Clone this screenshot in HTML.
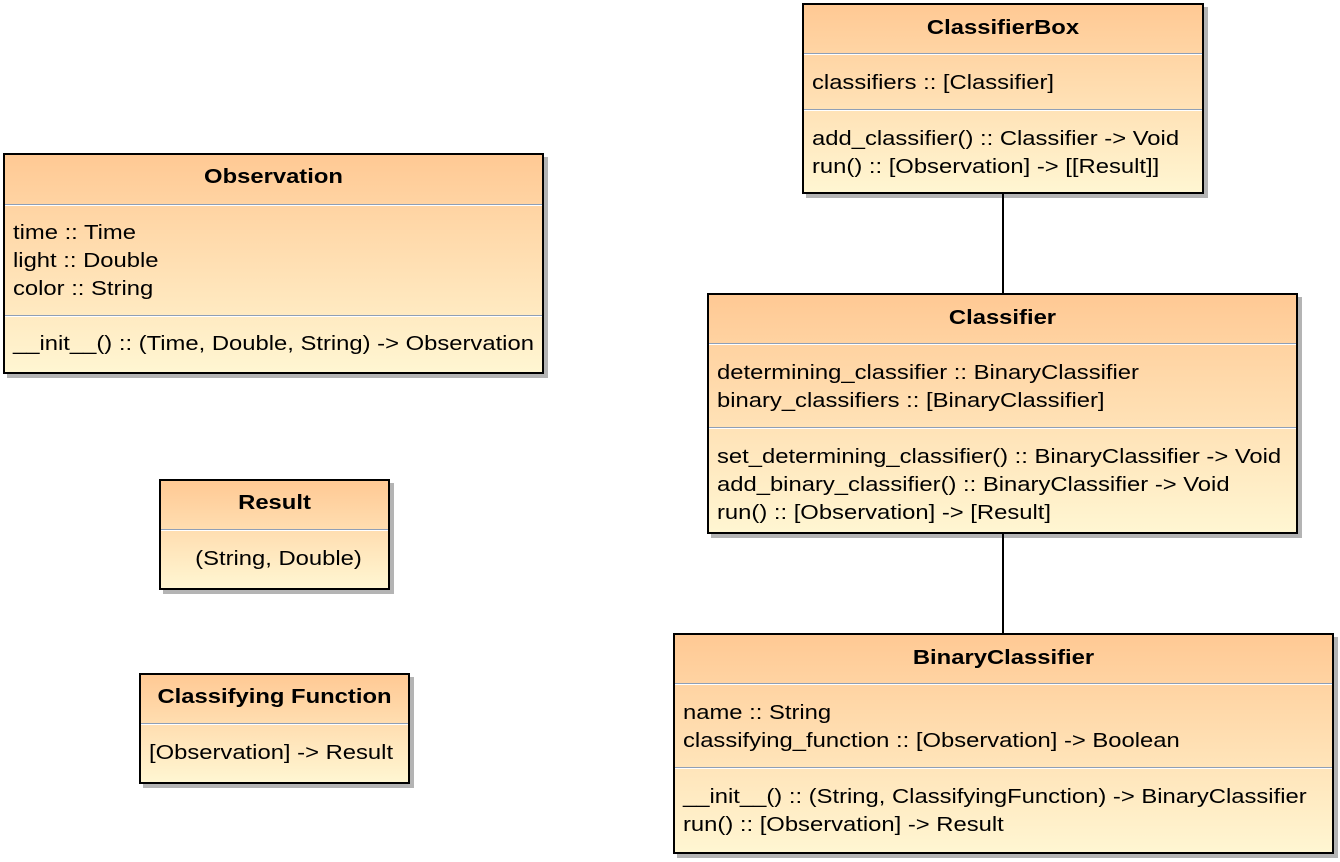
<!DOCTYPE html>
<html><head><meta charset="utf-8"><style>
body{margin:0;width:1340px;height:862px;background:#fff;position:relative;overflow:hidden;font-family:"Liberation Sans",Arial,sans-serif;}
.b{position:absolute;box-sizing:border-box;border:2px solid #000;background:linear-gradient(#ffc994,#fff6d2);box-shadow:4px 4px 0 #b4b4b4;}
.t{position:absolute;left:0;right:0;height:28px;line-height:28px;font-size:20px;white-space:nowrap;color:#000;transform:scaleX(1.19);}
.h{text-align:center;font-weight:bold;transform-origin:center;}
.n{font-weight:normal;}
.l{left:8px;transform-origin:left center;}
.s{position:absolute;left:0;right:0;height:1px;background:#8f9fb6;border-bottom:1px solid #fff;}
.c{position:absolute;width:2px;background:#000;left:1002px;z-index:5;}
</style></head><body>
<div class="c" style="top:193px;height:100px"></div>
<div class="c" style="top:533px;height:100px"></div>

<div class="b" style="left:3px;top:153px;width:541px;height:221px">
<div class="t h" style="top:8px">Observation</div>
<div class="s" style="top:49px"></div>
<div class="t l" style="top:64px">time :: Time</div>
<div class="t l" style="top:92px">light :: Double</div>
<div class="t l" style="top:120px">color :: String</div>
<div class="s" style="top:160px"></div>
<div class="t l" style="top:175px">__init__() :: (Time, Double, String) -&gt; Observation</div>
</div>

<div class="b" style="left:159px;top:479px;width:231px;height:111px">
<div class="t h" style="top:8px">Result</div>
<div class="s" style="top:48px"></div>
<div class="t h n" style="top:64px;left:8px">(String, Double)</div>
</div>

<div class="b" style="left:139px;top:673px;width:271px;height:111px">
<div class="t h" style="top:8px">Classifying Function</div>
<div class="s" style="top:48px"></div>
<div class="t l" style="top:64px">[Observation] -&gt; Result</div>
</div>

<div class="b" style="left:802px;top:3px;width:402px;height:191px">
<div class="t h" style="top:9px">ClassifierBox</div>
<div class="s" style="top:48px"></div>
<div class="t l" style="top:64px">classifiers :: [Classifier]</div>
<div class="s" style="top:104px"></div>
<div class="t l" style="top:120px">add_classifier() :: Classifier -&gt; Void</div>
<div class="t l" style="top:148px">run() :: [Observation] -&gt; [[Result]]</div>
</div>

<div class="b" style="left:707px;top:293px;width:591px;height:241px">
<div class="t h" style="top:9px">Classifier</div>
<div class="s" style="top:48px"></div>
<div class="t l" style="top:64px">determining_classifier :: BinaryClassifier</div>
<div class="t l" style="top:92px">binary_classifiers :: [BinaryClassifier]</div>
<div class="s" style="top:132px"></div>
<div class="t l" style="top:148px">set_determining_classifier() :: BinaryClassifier -&gt; Void</div>
<div class="t l" style="top:176px">add_binary_classifier() :: BinaryClassifier -&gt; Void</div>
<div class="t l" style="top:204px">run() :: [Observation] -&gt; [Result]</div>
</div>

<div class="b" style="left:673px;top:633px;width:661px;height:221px">
<div class="t h" style="top:9px">BinaryClassifier</div>
<div class="s" style="top:48px"></div>
<div class="t l" style="top:64px">name :: String</div>
<div class="t l" style="top:92px">classifying_function :: [Observation] -&gt; Boolean</div>
<div class="s" style="top:132px"></div>
<div class="t l" style="top:148px">__init__() :: (String, ClassifyingFunction) -&gt; BinaryClassifier</div>
<div class="t l" style="top:176px">run() :: [Observation] -&gt; Result</div>
</div>
</body></html>
